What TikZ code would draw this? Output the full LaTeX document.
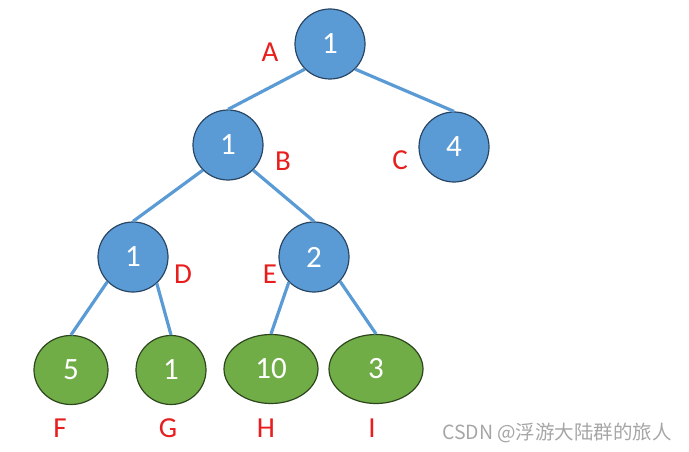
\documentclass[tikz,border=0pt]{standalone}
\usepackage{fontspec}
\setmainfont{Carlito}
\newfontfamily\cjk{Noto Sans CJK SC}
\usetikzlibrary{shapes.geometric}
\definecolor{nodeblue}{RGB}{91,155,213}
\definecolor{rimblue}{RGB}{40,70,100}
\definecolor{leafgreen}{RGB}{112,173,71}
\definecolor{rimgreen}{RGB}{45,70,30}
\definecolor{tagred}{RGB}{232,30,30}
\def\measbox #1;{\useasboundingbox #1;}

\begin{document}
\begin{tikzpicture}[x=1pt,y=-1pt,
    inner/.style={circle,draw=rimblue,line width=1.2pt,fill=nodeblue,minimum size=70pt,inner sep=0pt,text=white,font=\fontsize{31}{36}\selectfont},
    leaf/.style={ellipse,draw=rimgreen,line width=1.2pt,fill=leafgreen,minimum height=69pt,inner sep=0pt,text=white,font=\fontsize{31}{36}\selectfont},
    tag/.style={text=tagred,inner sep=0pt,font=\fontsize{29}{34}\selectfont},
    edge/.style={draw=nodeblue,line width=3.2pt}]
\measbox (0,0) rectangle (689,452);
\def\tg#1#2#3{\node[tag] (t#1) at (#2,#3) {#1};}

    \node[inner] (A) at (330,44) {1};
    \node[inner] (B) at (228,145) {1};
    \node[inner] (C) at (454,147) {4};
    \node[inner] (D) at (133,257) {1};
    \node[inner] (E) at (314,257) {2};
    \node[leaf,minimum width=74pt] (F) at (71,370) {5};
    \node[leaf,minimum width=70pt] (G) at (171,370) {1};
    \node[leaf,minimum width=94pt] (H) at (271,369) {10};
    \node[leaf,minimum width=94pt] (I) at (376,369) {3};
    \tg{A}{270}{52} \tg{B}{283}{161} \tg{C}{400}{160}
    \tg{D}{183}{274} \tg{E}{270}{274}
    \tg{F}{60}{428} \tg{G}{168}{428} \tg{H}{266}{428} \tg{I}{372}{428}
    \path[edge] (A.-135) -- (B.north);
    \path[edge] (A.-45) -- (C.north);
    \path[edge] (B.-135) -- (D.north);
    \path[edge] (B.-45) -- (E.north);
    \path[edge] (D.-136) -- (F.north);
    \path[edge] (D.-48) -- (G.north);
    \path[edge] (E.-135) -- (H.north);
    \path[edge] (E.-43) -- (I.north);
    \node[text=gray!70,inner sep=0pt,font=\cjk\fontsize{19.5}{22}\selectfont] (mark) at (557,433) {CSDN @浮游大陆群的旅人};

\end{tikzpicture}
\end{document}
